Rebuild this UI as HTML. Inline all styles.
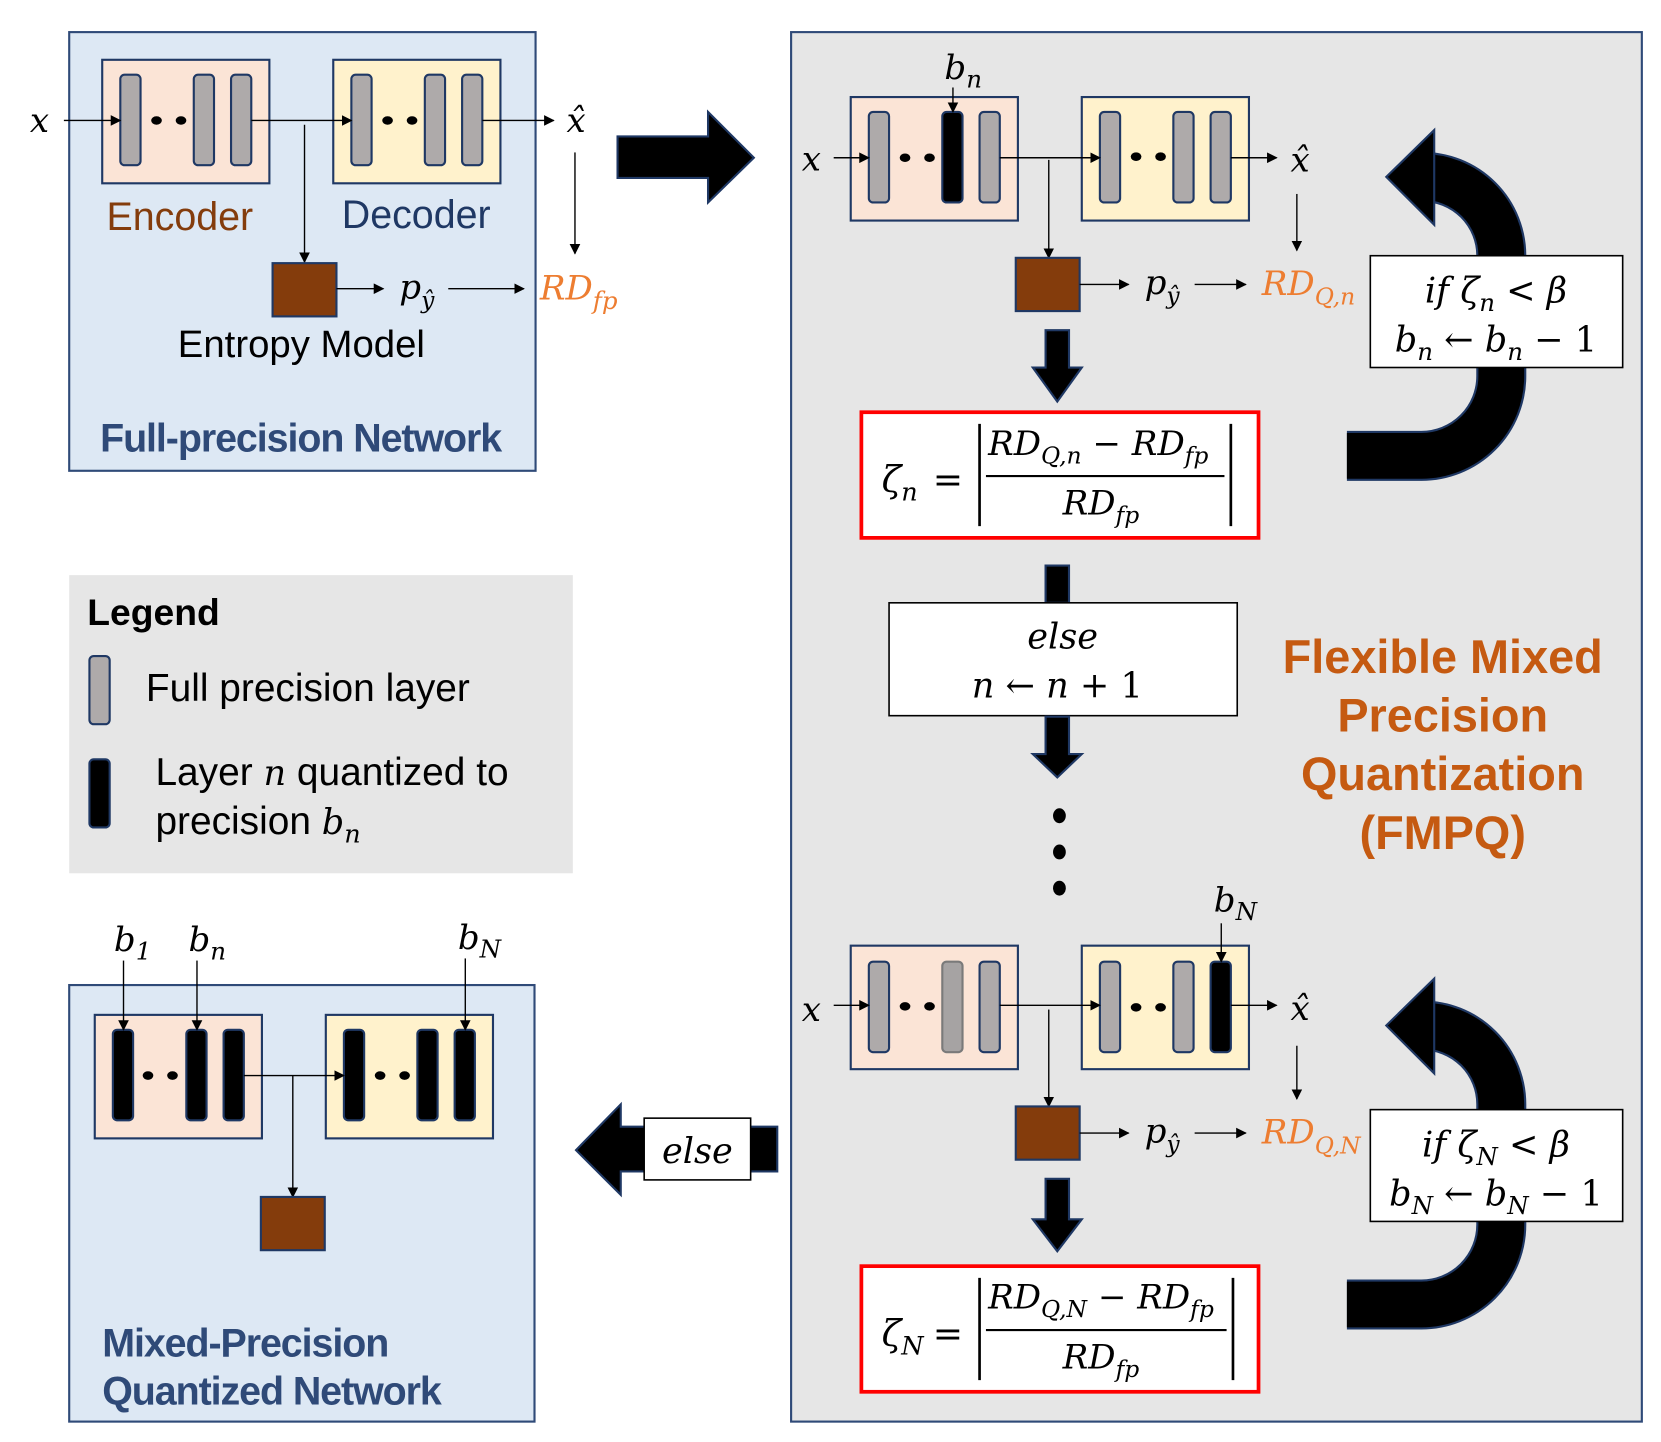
<!DOCTYPE html>
<html><head><meta charset="utf-8"><style>
html,body{margin:0;padding:0;background:#fff}
svg{display:block}
.m{font-family:"DejaVu Serif","Liberation Serif",serif;font-style:italic;fill:#000}
.s{font-family:"Liberation Sans",sans-serif}
</style></head><body>
<svg width="1661" height="1442" viewBox="0 0 1560 1354" xmlns="http://www.w3.org/2000/svg">
<defs>
<marker id="a" markerWidth="10" markerHeight="10" refX="9" refY="5" orient="auto" markerUnits="userSpaceOnUse"><path d="M0,0 L10,5 L0,10 z" fill="#000"/></marker>
<g id="lg"><rect x="0" y="0" width="19" height="85" rx="4" fill="#aeaaaa" stroke="#1f3864" stroke-width="2"/></g>
<g id="lb"><rect x="0" y="0" width="19" height="85" rx="4" fill="#000" stroke="#1f3864" stroke-width="2"/></g>
<g id="ent"><rect x="0" y="0" width="60" height="50" fill="#843c0c" stroke="#1f3864" stroke-width="2"/></g>
<g id="uturn">
<path d="M1265,428 H1335 A75,75 0 0 0 1410,353 V240 A74,74 0 0 0 1336,166 H1348" fill="none" stroke="#1f3864" stroke-width="47"/>
<path d="M1265,428 H1335 A75,75 0 0 0 1410,353 V240 A74,74 0 0 0 1336,166 H1348" fill="none" stroke="#000" stroke-width="43"/>
<polygon points="1347,122 1302,166 1347,211" fill="#000" stroke="#1f3864" stroke-width="2"/>
</g>
</defs>

<!-- Full precision network -->
<rect x="65" y="30" width="438" height="412" fill="#dde8f4" stroke="#2f4a78" stroke-width="2"/>
<rect x="96" y="56" width="157" height="116" fill="#fbe4d6" stroke="#1f3864" stroke-width="2"/>
<rect x="313" y="56" width="157" height="116" fill="#fff2cc" stroke="#1f3864" stroke-width="2"/>
<use href="#lg" x="113" y="70"/><use href="#lg" x="182" y="70"/><use href="#lg" x="217" y="70"/>
<use href="#lg" x="330" y="70"/><use href="#lg" x="399" y="70"/><use href="#lg" x="434" y="70"/>
<ellipse cx="147" cy="113" rx="5" ry="4" fill="#000"/><ellipse cx="170" cy="113" rx="5" ry="4" fill="#000"/>
<ellipse cx="364" cy="113" rx="5" ry="4" fill="#000"/><ellipse cx="387" cy="113" rx="5" ry="4" fill="#000"/>
<text x="28" y="124" class="m" font-size="32">x</text>
<line x1="60" y1="113" x2="113" y2="113" stroke="#000" stroke-width="1.3" marker-end="url(#a)"/>
<line x1="236" y1="113" x2="330" y2="113" stroke="#000" stroke-width="1.3" marker-end="url(#a)"/>
<line x1="453" y1="113" x2="520" y2="113" stroke="#000" stroke-width="1.3" marker-end="url(#a)"/>
<text x="532" y="124" class="m" font-size="32">x̂</text>
<line x1="286" y1="117" x2="286" y2="246" stroke="#000" stroke-width="1.3" marker-end="url(#a)"/>
<line x1="540" y1="143" x2="540" y2="238" stroke="#000" stroke-width="1.3" marker-end="url(#a)"/>
<use href="#ent" x="256" y="247"/>
<line x1="316" y1="271" x2="360" y2="271" stroke="#000" stroke-width="1.3" marker-end="url(#a)"/>
<text x="375" y="280" class="m" font-size="32">p<tspan font-size="22" dy="9">ŷ</tspan></text>
<line x1="421" y1="271" x2="492" y2="271" stroke="#000" stroke-width="1.3" marker-end="url(#a)"/>
<text x="507" y="281" class="m" font-size="32" style="fill:#ed7d31">RD<tspan font-size="23" dy="9">fp</tspan></text>
<text x="100" y="216" class="s" font-size="37" fill="#843c0c">Encoder</text>
<text x="321" y="214" class="s" font-size="37" fill="#1f3864">Decoder</text>
<text x="167" y="335" class="s" font-size="36" fill="#000">Entropy Model</text>
<text x="94" y="424" class="s" font-size="37" font-weight="bold" fill="#2f4a78" letter-spacing="-1">Full-precision Network</text>

<!-- big right arrow -->
<polygon points="580,128 665,128 665,105 708,148 665,190 665,167 580,167" fill="#000" stroke="#1f3864" stroke-width="2"/>

<!-- Legend -->
<rect x="65" y="540" width="473" height="280" fill="#e6e6e6"/>
<text x="82" y="587" class="s" font-size="35" font-weight="bold" fill="#000">Legend</text>
<rect x="84" y="616" width="19" height="64" rx="4" fill="#aeaaaa" stroke="#1f3864" stroke-width="2"/>
<text x="137" y="658" class="s" font-size="36.5" fill="#000">Full precision layer</text>
<rect x="84" y="713" width="19" height="64" rx="4" fill="#000" stroke="#1f3864" stroke-width="2"/>
<text x="146" y="737" class="s" font-size="36.5" fill="#000">Layer <tspan font-family="DejaVu Serif" font-style="italic" font-size="33">n</tspan> quantized to</text>
<text x="146" y="783" class="s" font-size="36.5" fill="#000">precision <tspan font-family="DejaVu Serif" font-style="italic" font-size="33">b<tspan font-size="24" dy="8">n</tspan></tspan></text>

<!-- Mixed precision network -->
<rect x="65" y="925" width="437" height="410" fill="#dde8f4" stroke="#2f4a78" stroke-width="2"/>
<rect x="89" y="953" width="157" height="116" fill="#fbe4d6" stroke="#1f3864" stroke-width="2"/>
<rect x="306" y="953" width="157" height="116" fill="#fff2cc" stroke="#1f3864" stroke-width="2"/>
<use href="#lb" x="106" y="967"/><use href="#lb" x="175" y="967"/><use href="#lb" x="210" y="967"/>
<use href="#lb" x="323" y="967"/><use href="#lb" x="392" y="967"/><use href="#lb" x="427" y="967"/>
<ellipse cx="139" cy="1010" rx="5" ry="4" fill="#000"/><ellipse cx="162" cy="1010" rx="5" ry="4" fill="#000"/>
<ellipse cx="357" cy="1010" rx="5" ry="4" fill="#000"/><ellipse cx="380" cy="1010" rx="5" ry="4" fill="#000"/>
<text x="107" y="893" class="m" font-size="32">b<tspan font-size="23" dy="8">1</tspan></text>
<text x="177" y="893" class="m" font-size="32">b<tspan font-size="23" dy="8">n</tspan></text>
<text x="430" y="891" class="m" font-size="32">b<tspan font-size="23" dy="8">N</tspan></text>
<line x1="116" y1="902" x2="116" y2="967" stroke="#000" stroke-width="1.3" marker-end="url(#a)"/>
<line x1="185" y1="902" x2="185" y2="967" stroke="#000" stroke-width="1.3" marker-end="url(#a)"/>
<line x1="437" y1="900" x2="437" y2="967" stroke="#000" stroke-width="1.3" marker-end="url(#a)"/>
<line x1="229" y1="1010" x2="323" y2="1010" stroke="#000" stroke-width="1.3" marker-end="url(#a)"/>
<line x1="275" y1="1010" x2="275" y2="1124" stroke="#000" stroke-width="1.3" marker-end="url(#a)"/>
<use href="#ent" x="245" y="1124"/>
<text x="96" y="1274" class="s" font-size="37" font-weight="bold" fill="#2f4a78" letter-spacing="-1">Mixed-Precision</text>
<text x="96" y="1319" class="s" font-size="37" font-weight="bold" fill="#2f4a78" letter-spacing="-1">Quantized Network</text>

<!-- left arrow -->
<polygon points="730,1058 583,1058 583,1037 541,1080 583,1122 583,1100 730,1100" fill="#000" stroke="#1f3864" stroke-width="2"/>
<rect x="605" y="1050" width="100" height="58" fill="#fff" stroke="#000" stroke-width="1.5"/>
<text x="655" y="1092" class="m" font-size="33" text-anchor="middle">else</text>

<!-- FMPQ big box -->
<rect x="743" y="30" width="799" height="1305" fill="#e6e6e6" stroke="#2f4a78" stroke-width="2"/>

<!-- top row -->
<rect x="799" y="91" width="157" height="116" fill="#fbe4d6" stroke="#1f3864" stroke-width="2"/>
<rect x="1016" y="91" width="157" height="116" fill="#fff2cc" stroke="#1f3864" stroke-width="2"/>
<use href="#lg" x="816" y="105"/><use href="#lb" x="885" y="105"/><use href="#lg" x="920" y="105"/>
<use href="#lg" x="1033" y="105"/><use href="#lg" x="1102" y="105"/><use href="#lg" x="1137" y="105"/>
<ellipse cx="850" cy="148" rx="5" ry="4" fill="#000"/><ellipse cx="873" cy="148" rx="5" ry="4" fill="#000"/>
<ellipse cx="1067" cy="147" rx="5" ry="4" fill="#000"/><ellipse cx="1090" cy="147" rx="5" ry="4" fill="#000"/>
<text x="887" y="74" class="m" font-size="32">b<tspan font-size="23" dy="8">n</tspan></text>
<line x1="895" y1="82" x2="895" y2="105" stroke="#000" stroke-width="1.3" marker-end="url(#a)"/>
<text x="753" y="160" class="m" font-size="32">x</text>
<line x1="783" y1="148" x2="816" y2="148" stroke="#000" stroke-width="1.3" marker-end="url(#a)"/>
<line x1="939" y1="148" x2="1033" y2="148" stroke="#000" stroke-width="1.3" marker-end="url(#a)"/>
<line x1="1156" y1="148" x2="1199" y2="148" stroke="#000" stroke-width="1.3" marker-end="url(#a)"/>
<text x="1212" y="161" class="m" font-size="32">x̂</text>
<line x1="985" y1="150" x2="985" y2="242" stroke="#000" stroke-width="1.3" marker-end="url(#a)"/>
<line x1="1218" y1="182" x2="1218" y2="235" stroke="#000" stroke-width="1.3" marker-end="url(#a)"/>
<use href="#ent" x="954" y="242"/>
<line x1="1014" y1="267" x2="1060" y2="267" stroke="#000" stroke-width="1.3" marker-end="url(#a)"/>
<text x="1075" y="276" class="m" font-size="32">p<tspan font-size="22" dy="9">ŷ</tspan></text>
<line x1="1122" y1="267" x2="1170" y2="267" stroke="#000" stroke-width="1.3" marker-end="url(#a)"/>
<text x="1185" y="277" class="m" font-size="32" style="fill:#ed7d31">RD<tspan font-size="22" dy="9">Q,n</tspan></text>

<polygon points="982,310 1004,310 1004,345 1016,345 993,377 970,345 982,345" fill="#000" stroke="#1f3864" stroke-width="2"/>
<rect x="809" y="387" width="373" height="118" fill="#fff" stroke="#ff0000" stroke-width="3.5"/>
<text x="828" y="462" class="m" font-size="34">ζ<tspan font-size="24" dy="8">n</tspan></text>
<text x="876" y="462" font-family="DejaVu Serif" font-size="34">=</text>
<line x1="920" y1="398" x2="920" y2="494" stroke="#000" stroke-width="2.5"/>
<line x1="1156" y1="398" x2="1156" y2="494" stroke="#000" stroke-width="2.5"/>
<text x="928" y="427" class="m" font-size="32">RD<tspan font-size="22" dy="8">Q,n</tspan><tspan dy="-8" font-style="normal"> − </tspan>RD<tspan font-size="22" dy="8">fp</tspan></text>
<line x1="926" y1="447" x2="1150" y2="447" stroke="#000" stroke-width="2"/>
<text x="998" y="483" class="m" font-size="32">RD<tspan font-size="22" dy="8">fp</tspan></text>

<polygon points="982,531 1004,531 1004,566 982,566" fill="#000" stroke="#1f3864" stroke-width="2"/>
<rect x="835" y="566" width="327" height="106" fill="#fff" stroke="#000" stroke-width="1.5"/>
<text x="998" y="609" class="m" font-size="33" text-anchor="middle">else</text>
<text x="993" y="655" class="m" font-size="33" text-anchor="middle">n <tspan font-style="normal">← </tspan>n<tspan font-style="normal"> + 1</tspan></text>
<polygon points="982,673 1004,673 1004,708 1016,708 993,730 970,708 982,708" fill="#000" stroke="#1f3864" stroke-width="2"/>
<ellipse cx="995" cy="766" rx="6" ry="7" fill="#000"/>
<ellipse cx="995" cy="800" rx="6" ry="7" fill="#000"/>
<ellipse cx="995" cy="834" rx="6" ry="7" fill="#000"/>

<text x="1355" y="632" class="s" font-size="44" font-weight="bold" fill="#c55a11" text-anchor="middle">Flexible Mixed</text>
<text x="1355" y="687" class="s" font-size="44" font-weight="bold" fill="#c55a11" text-anchor="middle">Precision</text>
<text x="1355" y="742" class="s" font-size="44" font-weight="bold" fill="#c55a11" text-anchor="middle">Quantization</text>
<text x="1355" y="797" class="s" font-size="44" font-weight="bold" fill="#c55a11" text-anchor="middle">(FMPQ)</text>

<!-- bottom row -->
<rect x="799" y="888" width="157" height="116" fill="#fbe4d6" stroke="#1f3864" stroke-width="2"/>
<rect x="1016" y="888" width="157" height="116" fill="#fff2cc" stroke="#1f3864" stroke-width="2"/>
<use href="#lg" x="816" y="903"/><rect x="885" y="903" width="19" height="85" rx="4" fill="#a6a3a3" stroke="#7a7a7a" stroke-width="2"/><use href="#lg" x="920" y="903"/>
<use href="#lg" x="1033" y="903"/><use href="#lg" x="1102" y="903"/><use href="#lb" x="1137" y="903"/>
<ellipse cx="850" cy="945" rx="5" ry="4" fill="#000"/><ellipse cx="873" cy="945" rx="5" ry="4" fill="#000"/>
<ellipse cx="1067" cy="946" rx="5" ry="4" fill="#000"/><ellipse cx="1090" cy="946" rx="5" ry="4" fill="#000"/>
<text x="1140" y="856" class="m" font-size="32">b<tspan font-size="23" dy="8">N</tspan></text>
<line x1="1147" y1="867" x2="1147" y2="903" stroke="#000" stroke-width="1.3" marker-end="url(#a)"/>
<text x="753" y="959" class="m" font-size="32">x</text>
<line x1="783" y1="944" x2="816" y2="944" stroke="#000" stroke-width="1.3" marker-end="url(#a)"/>
<line x1="939" y1="944" x2="1033" y2="944" stroke="#000" stroke-width="1.3" marker-end="url(#a)"/>
<line x1="1156" y1="944" x2="1199" y2="944" stroke="#000" stroke-width="1.3" marker-end="url(#a)"/>
<text x="1212" y="958" class="m" font-size="32">x̂</text>
<line x1="985" y1="948" x2="985" y2="1039" stroke="#000" stroke-width="1.3" marker-end="url(#a)"/>
<line x1="1218" y1="982" x2="1218" y2="1032" stroke="#000" stroke-width="1.3" marker-end="url(#a)"/>
<use href="#ent" x="954" y="1039"/>
<line x1="1014" y1="1064" x2="1060" y2="1064" stroke="#000" stroke-width="1.3" marker-end="url(#a)"/>
<text x="1075" y="1073" class="m" font-size="32">p<tspan font-size="22" dy="9">ŷ</tspan></text>
<line x1="1122" y1="1064" x2="1170" y2="1064" stroke="#000" stroke-width="1.3" marker-end="url(#a)"/>
<text x="1185" y="1074" class="m" font-size="32" style="fill:#ed7d31">RD<tspan font-size="22" dy="9">Q,N</tspan></text>

<polygon points="982,1107 1004,1107 1004,1145 1016,1145 993,1175 970,1145 982,1145" fill="#000" stroke="#1f3864" stroke-width="2"/>
<rect x="809" y="1189" width="373" height="118" fill="#fff" stroke="#ff0000" stroke-width="3.5"/>
<text x="828" y="1264" class="m" font-size="34">ζ<tspan font-size="24" dy="8">N</tspan></text>
<text x="876" y="1264" font-family="DejaVu Serif" font-size="34">=</text>
<line x1="920" y1="1200" x2="920" y2="1296" stroke="#000" stroke-width="2.5"/>
<line x1="1158" y1="1200" x2="1158" y2="1296" stroke="#000" stroke-width="2.5"/>
<text x="928" y="1229" class="m" font-size="32">RD<tspan font-size="22" dy="8">Q,N</tspan><tspan dy="-8" font-style="normal"> − </tspan>RD<tspan font-size="22" dy="8">fp</tspan></text>
<line x1="926" y1="1249" x2="1152" y2="1249" stroke="#000" stroke-width="2"/>
<text x="998" y="1285" class="m" font-size="32">RD<tspan font-size="22" dy="8">fp</tspan></text>

<!-- U-turn arrows -->
<use href="#uturn"/>
<rect x="1287" y="240" width="237" height="105" fill="#fff" stroke="#000" stroke-width="1.5"/>
<text x="1405" y="284" class="m" font-size="33" text-anchor="middle">if ζ<tspan font-size="23" dy="8">n</tspan><tspan dy="-8" font-style="normal"> &lt; </tspan>β</text>
<text x="1405" y="330" class="m" font-size="33" text-anchor="middle">b<tspan font-size="23" dy="8">n</tspan><tspan dy="-8" font-style="normal"> ← </tspan>b<tspan font-size="23" dy="8">n</tspan><tspan dy="-8" font-style="normal"> − 1</tspan></text>

<use href="#uturn" y="797"/>
<rect x="1287" y="1042" width="237" height="105" fill="#fff" stroke="#000" stroke-width="1.5"/>
<text x="1405" y="1086" class="m" font-size="33" text-anchor="middle">if ζ<tspan font-size="23" dy="8">N</tspan><tspan dy="-8" font-style="normal"> &lt; </tspan>β</text>
<text x="1405" y="1132" class="m" font-size="33" text-anchor="middle">b<tspan font-size="23" dy="8">N</tspan><tspan dy="-8" font-style="normal"> ← </tspan>b<tspan font-size="23" dy="8">N</tspan><tspan dy="-8" font-style="normal"> − 1</tspan></text>
</svg>
</body></html>
